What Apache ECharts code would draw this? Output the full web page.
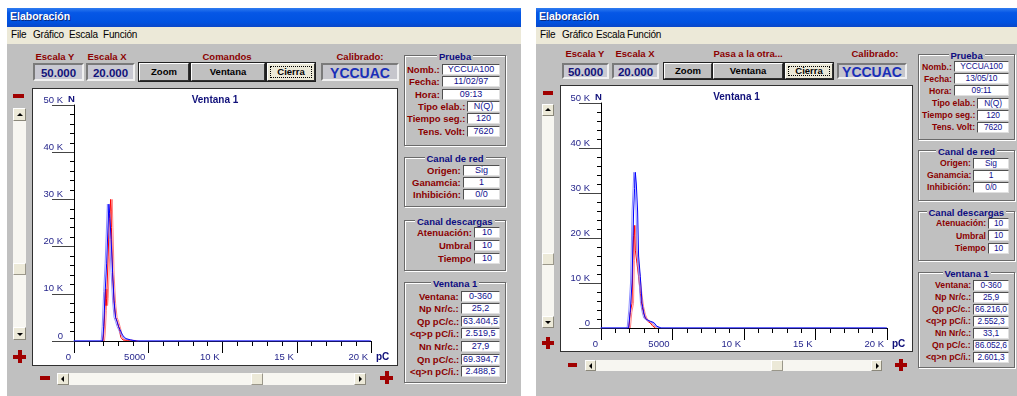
<!DOCTYPE html>
<html>
<head>
<meta charset="utf-8">
<title>Elaboración</title>
<script src="https://cdn.jsdelivr.net/npm/echarts@6.0.0/dist/echarts.min.js"></script>
<style>
  body { margin: 0; width: 1017px; height: 396px; background: #fff; position: relative; overflow: hidden;
         font-family: 'Liberation Sans', Arial, sans-serif; }
  .a { position: absolute; box-sizing: border-box; }
  .title { background: linear-gradient(#2f7cf0, #0657e6 25%, #0052e0 75%, #0a47c8); color: #fff;
           font-weight: bold; font-size: 10.5px; line-height: 19px; padding-left: 3px; text-shadow: 1px 1px 0 #0a2a80; }
  .menu { background: #ece9d8; font-size: 10px; letter-spacing: -0.2px; line-height: 17px; color: #000; }
  .body { background: #c0c0c0; }
  .lbl { color: #8b0000; font-weight: bold; font-size: 9.5px; white-space: nowrap; }
  .lbl.small { font-size: 8.7px; }
  .ttl { color: #0c0c80; font-weight: bold; font-size: 9.5px; background: #c0c0c0; padding: 0 2px; white-space: nowrap; }
  .val { background: #fff; border: 1px solid; border-color: #505050 #e0e0e0 #e0e0e0 #505050; color: #101090;
         font-size: 9px; text-align: center; white-space: nowrap; overflow: hidden; }
  .val.small { font-size: 8.4px; letter-spacing: -0.1px; }
  .grp { border: 1px solid #6a6a6a; box-shadow: inset 1px 1px 0 #fff, 1px 1px 0 #fff; }
  .esc { background: #c9c9d2; border: 2px solid; border-color: #7a7a7a #f0f0f0 #f0f0f0 #7a7a7a; color: #12127a;
         font-weight: bold; font-size: 11.5px; text-align: center; }
  .btn { background: #c0c0c0; border: 1px solid; border-color: #fff #303030 #303030 #fff; box-shadow: 0 0 0 1px #202020;
         color: #000; font-weight: bold; font-size: 9.5px; text-align: center; }
  .def { background: #ece9d8; }
  .cal { background: #c6c6cc; border: 2px solid; border-color: #7a7a7a #f0f0f0 #f0f0f0 #7a7a7a; color: #1a2fb8;
         font-weight: bold; font-size: 14px; text-align: center; }
  .plot { background: #fff; border: 1px solid #303030; }
  .red { background: #a00000; }
  .track { background: #f7f6f1; }
  .sbtn { background: #ece9d8; border: 1px solid; border-color: #fff #8a877a #8a877a #fff; }
  .thumb { background: #ece9d8; border: 1px solid; border-color: #fff #9a978a #9a978a #fff; }
</style>
</head>
<body>
<script>
// ---- texts ----
const menuItems = ['File', 'Gráfico', 'Escala', 'Función'];
const pruebaLabels = ['Nomb.:', 'Fecha:', 'Hora:', 'Tipo elab.:', 'Tiempo seg.:', 'Tens. Volt:'];
const pruebaLeft = ['YCCUA100', '11/02/97', '09:13', 'N(Q)', '120', '7620'];
const pruebaRight = ['YCCUA100', '13/05/10', '09:11', 'N(Q)', '120', '7620'];
const redLabels = ['Origen:', 'Ganamcia:', 'Inhibición:'];
const redValues = ['Sig', '1', '0/0'];
const descLabels = ['Atenuación:', 'Umbral', 'Tiempo'];
const descValues = ['10', '10', '10'];
const venLabels = ['Ventana:', 'Np Nr/c.:', 'Qp pC/c.:', '<q>p pC/i.:', 'Nn Nr/c.:', 'Qn pC/c.:', '<q>n pC/i.:'];
const venLeft = ['0-360', '25,2', '63.404,5', '2.519,5', '27,9', '69.394,7', '2.488,5'];
const venRight = ['0-360', '25,9', '66.216,0', '2.552,3', '33,1', '86.052,6', '2.601,3'];

// ---- chart data (charge pC / count N) ----
const xTickLabels = ['0', '5000', '10 K', '15 K', '20 K'];
const yTickLabels = ['0', '10 K', '20 K', '30 K', '40 K', '50 K'];

const leftBlueQ = [0, 1930, 2000, 2100, 2200, 2300, 2350, 2400, 2500, 2600, 2700, 2800, 2900, 3000, 3100, 3200, 3300, 3500, 3800, 4200, 20000];
const leftBlueN = [0, 0, 3000, 10500, 16500, 25000, 29000, 27000, 21500, 14500, 8500, 5000, 4100, 3100, 2400, 1700, 1100, 500, 250, 0, 0];
const leftRedQ = [1950, 2000, 2080, 2120, 2160, 2200, 2300, 2380, 2420, 2470, 2520, 2600, 2700, 2800, 2900, 2980, 3050, 3150, 3300, 3600, 4100, 4250];
const leftRedN = [0, 1500, 6500, 11000, 7500, 9000, 18000, 26000, 27500, 30000, 24000, 14000, 8000, 5000, 4200, 4400, 2500, 800, 200, 150, 100, 0];

const rightBlueQ = [0, 1930, 2050, 2170, 2280, 2350, 2400, 2470, 2560, 2630, 2750, 2870, 3000, 3100, 3300, 3450, 3570, 3700, 3900, 4200, 20000];
const rightBlueN = [0, 0, 4000, 10000, 26000, 31000, 34600, 32000, 26000, 16000, 11400, 5500, 3300, 2200, 1700, 1500, 1700, 1200, 400, 0, 0];
const rightRedQ = [1950, 2050, 2170, 2230, 2280, 2330, 2400, 2515, 2630, 2750, 2870, 3000, 3100, 3300, 3450, 3600, 3800];
const rightRedN = [0, 3500, 5500, 15000, 20600, 22800, 17300, 14400, 11400, 7700, 4800, 3000, 2200, 1400, 1100, 500, 0];

// ---- helpers ----
function el(cls, x, y, w, h, text) {
  const d = document.createElement('div');
  d.className = 'a ' + cls;
  d.style.left = x + 'px';
  d.style.top = y + 'px';
  if (w != null) d.style.width = w + 'px';
  if (h != null) { d.style.height = h + 'px'; d.style.lineHeight = (h - 2) + 'px'; }
  if (text != null) d.textContent = text;
  document.body.appendChild(d);
  return d;
}
function centered(cls, cx, cy, text) {
  const d = el(cls, 0, 0, null, null, text);
  d.style.left = (cx - d.offsetWidth / 2) + 'px';
  d.style.top = (cy - d.offsetHeight / 2) + 'px';
  return d;
}
function rightText(cls, rx, cy, text) {
  const d = el(cls, 0, 0, null, null, text);
  d.style.left = (rx - d.offsetWidth) + 'px';
  d.style.top = (cy - d.offsetHeight / 2) + 'px';
  return d;
}
function minus(x, y, w) { el('red', x, y, w, 4); }
function plus(x, y, s) {
  el('red', x, y + s / 2 - 2, s, 4);
  el('red', x + s / 2 - 2, y, 4, s);
}
function arrow(parent, dir) {
  const t = document.createElement('div');
  t.style.cssText = 'position:absolute;width:0;height:0;left:50%;top:50%;';
  const s = 3;
  if (dir === 'up') t.style.cssText += `border-left:${s}px solid transparent;border-right:${s}px solid transparent;border-bottom:${s}px solid #000;margin:-2px 0 0 -${s}px`;
  if (dir === 'down') t.style.cssText += `border-left:${s}px solid transparent;border-right:${s}px solid transparent;border-top:${s}px solid #000;margin:-1px 0 0 -${s}px`;
  if (dir === 'left') t.style.cssText += `border-top:${s}px solid transparent;border-bottom:${s}px solid transparent;border-right:${s}px solid #000;margin:-${s}px 0 0 -2px`;
  if (dir === 'right') t.style.cssText += `border-top:${s}px solid transparent;border-bottom:${s}px solid transparent;border-left:${s}px solid #000;margin:-${s}px 0 0 -1px`;
  parent.appendChild(t);
}
function vScroll(x, y1, y2, w, t1, t2) {
  el('track', x, y1, w, y2 - y1);
  arrow(el('sbtn', x, y1, w, w), 'up');
  arrow(el('sbtn', x, y2 - w, w, w), 'down');
  el('thumb', x, t1, w, t2 - t1);
}
function hScroll(x1, x2, y, h, t1, t2) {
  el('track', x1, y, x2 - x1, h);
  arrow(el('sbtn', x1, y, h, h), 'left');
  arrow(el('sbtn', x2 - h, y, h, h), 'right');
  el('thumb', t1, y, t2 - t1, h);
}
function group(x1, x2, y1, y2, title, labels, values, r0, step, boxX, boxR, small) {
  el('grp', x1, y1, x2 - x1, y2 - y1);
  centered('ttl', (x1 + x2) / 2, y1 + 1, title);
  labels.forEach((lab, i) => {
    const cy = r0 + i * step;
    const bx = Array.isArray(boxX) ? boxX[i] : boxX;
    el(small ? 'val small' : 'val', bx, Math.round(cy - 5.5), boxR - bx, 11, values[i]);
    rightText(small ? 'lbl small' : 'lbl', bx - 2, cy, lab);
  });
}
function windowFrame(x, w, menuX) {
  el('title', x, 8, w, 19, 'Elaboración');
  el('menu', x, 27, w, 17);
  el('body', x, 44, w, 396 - 44);
  menuX.forEach((mx, i) => el('menu', mx, 27, null, 17, menuItems[i]).style.background = 'none');
}

// ---- left window ----
windowFrame(7, 514, [11, 33, 69, 103]);
centered('lbl', 55, 56, 'Escala Y');
centered('lbl', 107, 56, 'Escala X');
centered('lbl', 227, 56, 'Comandos');
centered('lbl', 360, 56, 'Calibrado:');
el('esc', 33, 63, 51, 18, '50.000');
el('esc', 86, 63, 49, 18, '20.000');
el('btn', 139, 63, 50, 18, 'Zoom');
el('btn', 191, 63, 74, 18, 'Ventana');
const c1 = el('btn def', 267, 63, 48, 18, 'Cierra');
c1.style.outline = '1px dotted #000'; c1.style.outlineOffset = '-4px';
el('cal', 321, 63, 78, 18, 'YCCUAC');
el('plot', 32, 88, 366, 278);
minus(13, 94, 11);
plus(13, 350, 13);
vScroll(13, 108, 340, 13, 263, 275);
minus(40, 376, 10);
plus(380, 371, 13);
hScroll(57, 366, 373, 12, 251, 263);
group(404, 506, 55, 146, 'Prueba', pruebaLabels, pruebaLeft, 69.3, 12.35, [442, 442, 442, 467, 467, 467], 500, false);
group(404, 506, 157, 207, 'Canal de red', redLabels, redValues, 170, 12.4, 463, 500, false);
group(404, 506, 220, 271, 'Canal descargas', descLabels, descValues, 232.7, 12.8, 474, 500, false);
group(404, 506, 282, 383, 'Ventana 1', venLabels, venLeft, 296, 12.6, 461, 500, false);

// ---- right window ----
windowFrame(536, 481, [540, 562, 596, 627]);
centered('lbl', 585, 53, 'Escala Y');
centered('lbl', 635, 53, 'Escala X');
centered('lbl', 748, 53, 'Pasa a la otra...');
centered('lbl', 875, 53, 'Calibrado:');
el('esc', 562, 63, 47, 16, '50.000');
el('esc', 612, 63, 47, 16, '20.000');
el('btn', 664, 63, 48, 16, 'Zoom');
el('btn', 713, 63, 70, 16, 'Ventana');
const c2 = el('btn def', 785, 63, 48, 16, 'Cierra');
c2.style.outline = '1px dotted #000'; c2.style.outlineOffset = '-4px';
el('cal', 837, 63, 70, 16, 'YCCUAC');
el('plot', 560, 85, 353, 267);
minus(543, 91, 10);
plus(542, 337, 12);
vScroll(542, 104, 328, 12, 253, 265);
minus(568, 363, 9);
plus(895, 359, 12);
hScroll(585, 882, 360, 11, 771, 783);
group(918, 1015, 54, 140, 'Prueba', pruebaLabels, pruebaRight, 66.7, 12.1, [954, 954, 954, 977, 977, 977], 1009, true);
group(918, 1015, 150, 201, 'Canal de red', redLabels, redValues, 163.3, 12, 973, 1009, true);
group(918, 1015, 211, 261, 'Canal descargas', descLabels, descValues, 223.3, 12.5, 988, 1009, true);
group(918, 1015, 272, 368, 'Ventana 1', venLabels, venRight, 285, 12, 973, 1009, true);

// ---- charts ----
const font = "'Liberation Sans', Arial, sans-serif";
const navy = '#26268c';

function makeOption(grid, blueQ, blueN, redQ, redN) {
  const pair = (q, n) => q.map((v, i) => [v, n[i]]);
  const base = { type: 'value', min: 0, splitLine: { show: false } };
  return {
    animation: false,
    title: {
      text: 'Ventana 1', left: 'center', top: 6, padding: 0,
      textStyle: { fontFamily: font, fontSize: 10, fontWeight: 'bold', color: '#10107a' }
    },
    graphic: [{
      type: 'text', left: grid.left + grid.width + 5, top: grid.top + grid.height + 11, silent: true,
      style: { text: 'pC', font: 'bold 10px ' + font, fill: '#10107a' }
    }],
    grid: Object.assign({ outerBoundsMode: 'none', containLabel: false }, grid),
    xAxis: [
      Object.assign({}, base, {
        max: 20000, interval: 5000,
        axisLine: { show: true, onZero: false, lineStyle: { color: '#000' } },
        axisTick: { show: true, length: 5, lineStyle: { color: '#000' } },
        minorTick: { show: true, splitNumber: 5, length: 5, lineStyle: { color: '#000' } },
        axisLabel: { show: false }
      }),
      Object.assign({}, base, {
        max: 20000, interval: 5000, position: 'bottom', offset: 9,
        axisLine: { show: false },
        axisTick: { show: true, length: 12, lineStyle: { color: '#000' } },
        axisLabel: {
          margin: 7, align: 'right', verticalAlign: 'middle', padding: [0, 3, 0, 0],
          showMinLabel: true, showMaxLabel: true,
          fontFamily: font, fontSize: 9.5, color: navy,
          formatter: (v) => xTickLabels[Math.round(v / 5000)]
        }
      })
    ],
    yAxis: [
      Object.assign({}, base, {
        max: 50000, interval: 10000,
        axisLine: { show: true, onZero: false, lineStyle: { color: '#000' } },
        axisTick: { show: true, length: 4, lineStyle: { color: '#000' } },
        minorTick: { show: true, splitNumber: 5, length: 4, lineStyle: { color: '#000' } },
        axisLabel: { show: false },
        name: 'N', nameLocation: 'end', nameGap: 1,
        nameTextStyle: { fontFamily: font, fontSize: 9.5, fontWeight: 'bold', color: '#10107a', padding: [0, 5, 0, 0] }
      }),
      Object.assign({}, base, {
        max: 50000, interval: 10000, position: 'left', offset: 9,
        axisLine: { show: false },
        axisTick: { show: true, length: 22, lineStyle: { color: '#444' } },
        axisLabel: {
          margin: 2, align: 'right', verticalAlign: 'bottom',
          showMinLabel: true, showMaxLabel: true,
          fontFamily: font, fontSize: 9.5, color: navy,
          formatter: (v) => yTickLabels[Math.round(v / 10000)]
        }
      })
    ],
    series: [
      {
        type: 'line', xAxisIndex: 0, yAxisIndex: 0, symbol: 'none', silent: true,
        data: pair(redQ, redN),
        lineStyle: { color: '#ff0000', width: 1, shadowColor: 'rgba(255,120,120,0.9)', shadowOffsetX: 1.5, shadowBlur: 0 }
      },
      {
        type: 'line', xAxisIndex: 0, yAxisIndex: 0, symbol: 'none', silent: true,
        data: pair(blueQ, blueN),
        lineStyle: { color: '#0000ff', width: 1, shadowColor: 'rgba(130,130,255,0.9)', shadowOffsetX: -1.5, shadowBlur: 0 }
      }
    ]
  };
}

function chartDiv(x, y, w, h) {
  const d = el('', x, y, w, h);
  d.style.lineHeight = 'normal';
  return d;
}

const leftChart = echarts.init(chartDiv(33, 89, 364, 276));
leftChart.setOption(makeOption({ left: 41, top: 16, width: 297, height: 236 }, leftBlueQ, leftBlueN, leftRedQ, leftRedN));

const rightChart = echarts.init(chartDiv(561, 86, 351, 265));
rightChart.setOption(makeOption({ left: 40, top: 17, width: 286, height: 225 }, rightBlueQ, rightBlueN, rightRedQ, rightRedN));
</script>
</body>
</html>
